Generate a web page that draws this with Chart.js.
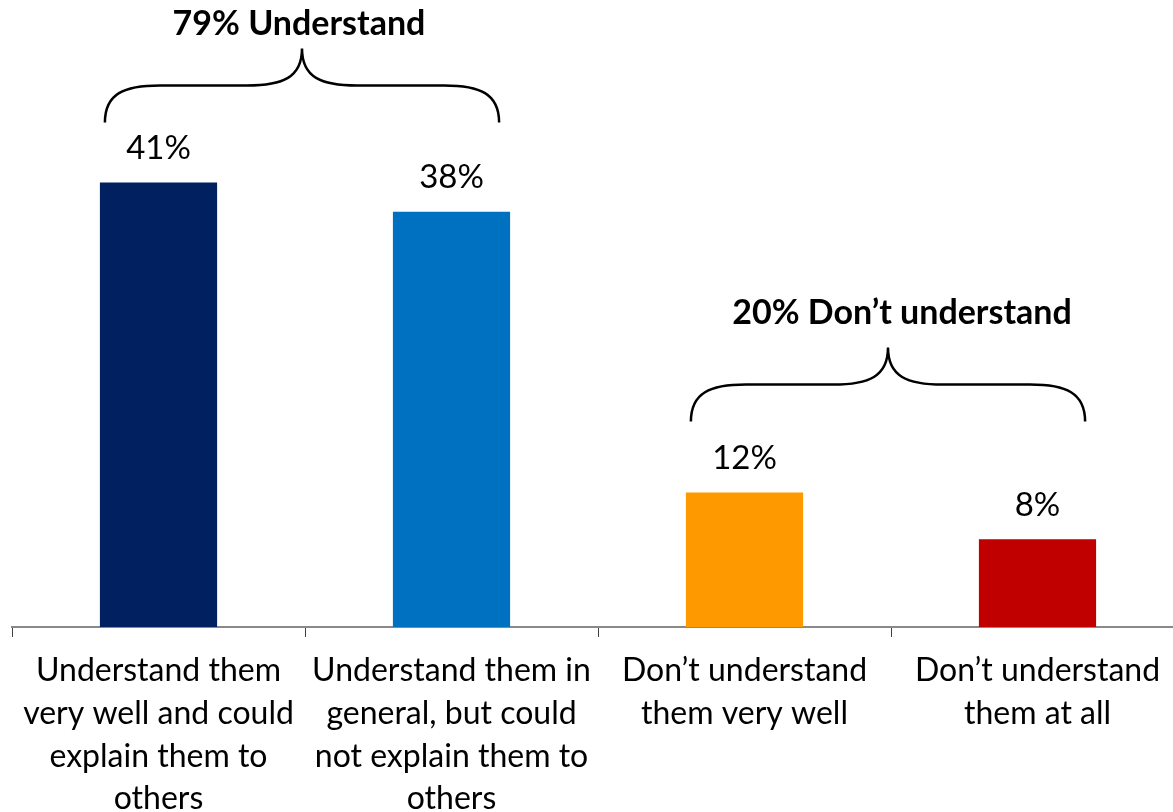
<!DOCTYPE html>
<html>
<head>
<meta charset="utf-8">
<script src="https://cdn.jsdelivr.net/npm/chart.js@4/dist/chart.umd.min.js"></script>
<style>
  html, body { margin: 0; padding: 0; background: #fff; overflow: hidden; }
  #wrap { width: 1173px; height: 812px; overflow: hidden; position: relative; }
  canvas { display: block; }
</style>
</head>
<body>
<div id="wrap"><canvas id="chart" width="1186" height="812"></canvas></div>
<script>
const categories = [
  ["Understand them", "very well and could", "explain them to", "others"],
  ["Understand them in", "general, but could", "not explain them to", "others"],
  ["Don\u2019t understand", "them very well"],
  ["Don\u2019t understand", "them at all"]
];
// bar heights as measured; labels show the rounded percentage
const values = [41, 38.3, 12.4, 8.1];
const barColors = ["#002060", "#0070C0", "#FF9900", "#C00000"];
const groupLabels = ["79% Understand", "20% Don\u2019t understand"];
const groupRanges = [[0, 1], [2, 3]];

const FONT = "Lato, 'Open Sans', sans-serif";

// value labels above each bar
const valueLabels = {
  id: "valueLabels",
  afterDatasetsDraw(chart) {
    const ctx = chart.ctx;
    const meta = chart.getDatasetMeta(0);
    ctx.save();
    ctx.font = "33px " + FONT;
    ctx.fillStyle = "#000";
    ctx.textAlign = "center";
    ctx.textBaseline = "middle";
    meta.data.forEach((bar, i) => {
      ctx.fillText(Math.round(values[i]) + "%", bar.x, bar.y - 34);
    });
    ctx.restore();
  }
};

// curly braces with group titles
const braces = {
  id: "braces",
  afterDatasetsDraw(chart, args, opts) {
    const ctx = chart.ctx;
    const meta = chart.getDatasetMeta(0);
    ctx.save();
    groupRanges.forEach(([a, b], g) => {
      const b1 = meta.data[a], b2 = meta.data[b];
      const x0 = b1.x - b1.width / 2 + 5;
      const x1 = b2.x + b2.width / 2 - 11;
      const top = Math.min(b1.y, b2.y);
      const yEnd = top - opts.gap[g];
      const yPeak = yEnd - 74;
      const yMid = (yEnd + yPeak) / 2;
      const xm = (x0 + x1) / 2;
      const r = 55;
      ctx.beginPath();
      ctx.moveTo(x0, yEnd);
      ctx.bezierCurveTo(x0, yMid + 8, x0 + r * 0.35, yMid, x0 + r, yMid);
      ctx.lineTo(xm - r, yMid);
      ctx.bezierCurveTo(xm - r * 0.35, yMid, xm, yMid - 8, xm, yPeak);
      ctx.bezierCurveTo(xm, yMid - 8, xm + r * 0.35, yMid, xm + r, yMid);
      ctx.lineTo(x1 - r, yMid);
      ctx.bezierCurveTo(x1 - r * 0.35, yMid, x1, yMid + 8, x1, yEnd);
      ctx.lineWidth = 2.5;
      ctx.strokeStyle = "#000";
      ctx.stroke();

      ctx.font = "bold 34px " + FONT;
      ctx.fillStyle = "#000";
      ctx.textAlign = "center";
      ctx.textBaseline = "alphabetic";
      ctx.fillText(groupLabels[g], xm + opts.textShift[g], yPeak - opts.textGap[g]);
    });
    ctx.restore();
  }
};

new Chart(document.getElementById("chart"), {
  type: "bar",
  data: {
    labels: categories,
    datasets: [{
      data: values,
      backgroundColor: barColors,
      borderWidth: 0,
      categoryPercentage: 1,
      barPercentage: 0.4
    }]
  },
  options: {
    responsive: false,
    animation: false,
    layout: { padding: { top: 85, left: 12, right: 2, bottom: 0 } },
    plugins: {
      legend: { display: false },
      tooltip: { enabled: false },
      braces: { gap: [60, 71], textGap: [14, 24], textShift: [-3, 14] }
    },
    scales: {
      x: {
        afterFit: (s) => { s.height = 185; },
        grid: { display: true, drawOnChartArea: false, offset: true, tickLength: 10, color: "#404040", lineWidth: 1 },
        border: { color: "#898989", width: 2 },
        ticks: {
          color: "#000",
          maxRotation: 0,
          autoSkip: false,
          padding: 12,
          font: { family: FONT, size: 32, lineHeight: 1.34 }
        }
      },
      y: {
        display: false,
        min: 0,
        max: 50
      }
    }
  },
  plugins: [valueLabels, braces]
});
</script>
</body>
</html>
